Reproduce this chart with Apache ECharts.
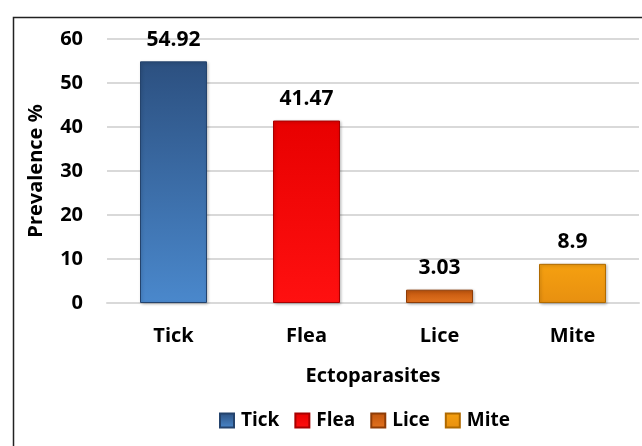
<!DOCTYPE html>
<html><head><meta charset="utf-8">
<script src="https://cdn.jsdelivr.net/npm/echarts@6/dist/echarts.min.js"></script>
<style>html,body{margin:0;padding:0;background:#fff}#c{width:642px;height:446px}</style>
</head><body><div id="c"></div>
<script>
const categories = ['Tick', 'Flea', 'Lice', 'Mite'];
const prevalence = [54.92, 41.47, 3.03, 8.9];
const valueLabels = ['54.92', '41.47', '3.03', '8.9'];
const yTicks = { min: 0, max: 60, interval: 10 };

const FONT = '"Open Sans", "Noto Sans", sans-serif';
const palette = [
  { top: '#2c5080', bot: '#4a88cc', edge: '#24436c' },
  { top: '#e80000', bot: '#ff1010', edge: '#a80000' },
  { top: '#c0540c', bot: '#e47420', edge: '#8e3c06' },
  { top: '#f5a010', bot: '#e89010', edge: '#b06a00' }
];
function grad(p) {
  return new echarts.graphic.LinearGradient(0, 0, 0, 1, [
    { offset: 0, color: p.top }, { offset: 1, color: p.bot }
  ]);
}
const chart = echarts.init(document.getElementById('c'), null, { renderer: 'canvas' });
const series = categories.map((name, i) => ({
  name: name,
  type: 'bar',
  stack: 'all',
  barWidth: 67,
  data: categories.map((c, j) => j === i ? prevalence[i] : '-'),
  itemStyle: { color: grad(palette[i]), borderColor: palette[i].edge, borderWidth: 1,
    shadowColor: 'rgba(0,0,0,0.25)', shadowBlur: 3, shadowOffsetX: 1, shadowOffsetY: 1 },
  label: {
    show: true, position: 'top', distance: 11,
    formatter: () => valueLabels[i],
    color: '#000', fontFamily: FONT, fontWeight: 700, fontSize: 21
  }
}));
chart.setOption({
  animation: false,
  color: palette.map(p => p.bot),
  graphic: [{
    type: 'rect', left: 11, top: 15,
    shape: { width: 700, height: 500 },
    style: { fill: 'none', stroke: '#222', lineWidth: 1.5 }
  }],
  grid: { left: 107, right: 3, top: 39, bottom: 143 },
  legend: {
    data: categories, bottom: 11, left: 214,
    itemWidth: 14, itemHeight: 14, itemGap: 15, icon: 'rect',
    textStyle: { color: '#000', fontFamily: FONT, fontWeight: 700, fontSize: 19, padding: [0, 0, 0, 2] }
  },
  xAxis: {
    type: 'category', data: categories,
    name: 'Ectoparasites', nameLocation: 'middle', nameGap: 63,
    nameTextStyle: { color: '#000', fontFamily: FONT, fontWeight: 700, fontSize: 20 },
    axisLine: { lineStyle: { color: '#d9d9d9', width: 2 } },
    axisTick: { show: false },
    axisLabel: { color: '#000', fontFamily: FONT, fontWeight: 700, fontSize: 20, margin: 23 }
  },
  yAxis: {
    type: 'value', min: yTicks.min, max: yTicks.max, interval: yTicks.interval,
    name: 'Prevalence %', nameLocation: 'middle', nameGap: 61,
    nameTextStyle: { color: '#000', fontFamily: FONT, fontWeight: 700, fontSize: 20 },
    axisLine: { show: false }, axisTick: { show: false },
    splitLine: { lineStyle: { color: '#d9d9d9', width: 2 } },
    axisLabel: { color: '#000', fontFamily: FONT, fontWeight: 700, fontSize: 20, margin: 24 }
  },
  series: series
});
</script></body></html>
